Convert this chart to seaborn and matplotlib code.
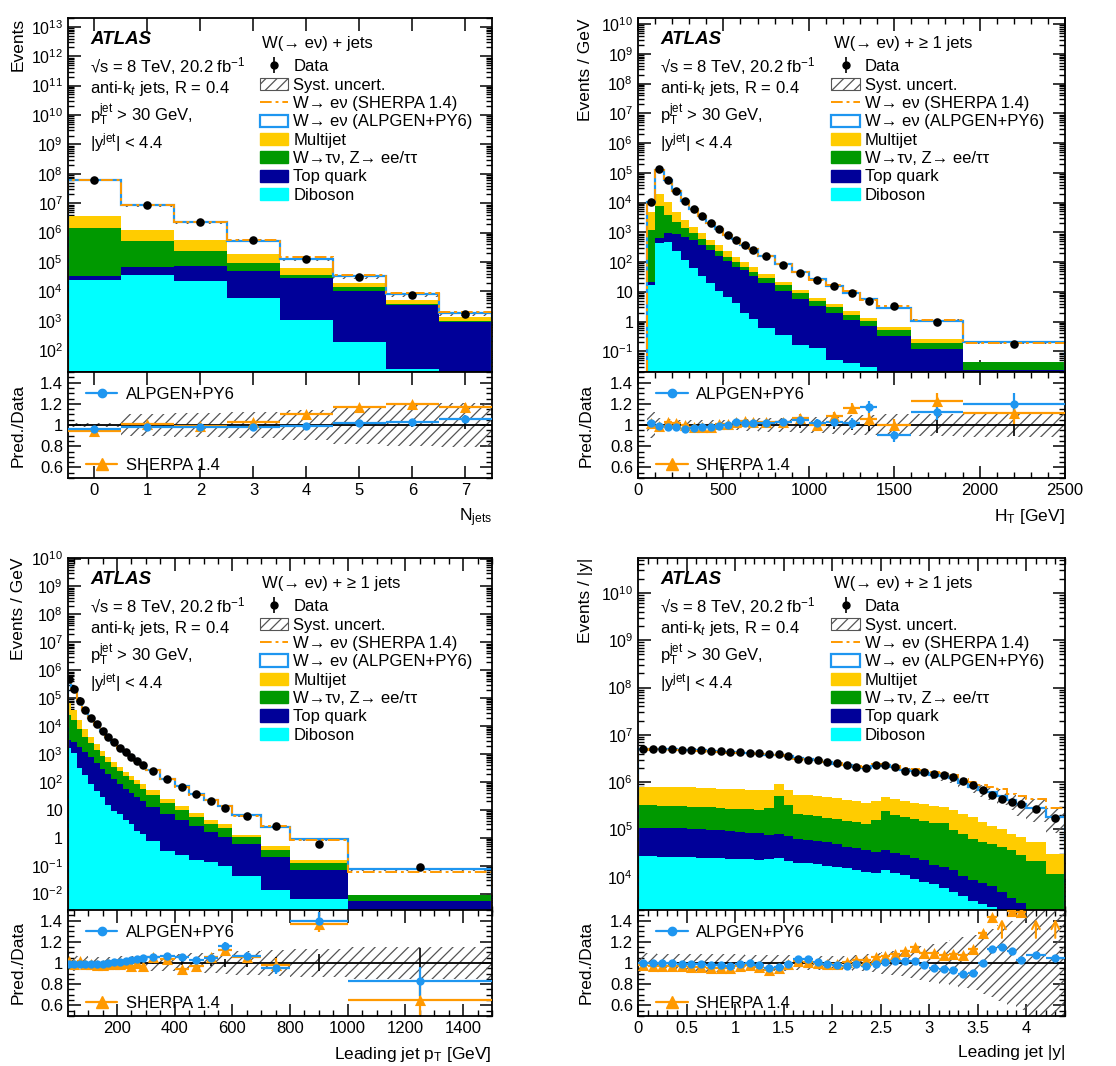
import matplotlib
matplotlib.use("Agg")
import matplotlib.pyplot as plt
import matplotlib.ticker as mtick
from matplotlib.lines import Line2D
from matplotlib.patches import Patch
import numpy as np
import seaborn as sns

sns.set_theme(style="ticks")
plt.rcParams["font.family"] = ["Liberation Sans", "DejaVu Sans"]
plt.rcParams.update({
    "mathtext.fontset": "custom",
    "mathtext.rm": "Liberation Sans",
    "mathtext.it": "Liberation Sans:italic",
    "mathtext.bf": "Liberation Sans:bold",
    "axes.linewidth": 1.3,
    "axes.edgecolor": "black",
    "text.color": "black",
    "axes.labelcolor": "black",
    "xtick.color": "black",
    "ytick.color": "black",
    "hatch.linewidth": 0.9,
    "hatch.color": "#555555",
})

C_MULTIJET = "#ffcc00"
C_WTAU = "#009900"
C_TOP = "#000099"
C_DIBOSON = "#00ffff"
C_ALPGEN = "#1e96f0"
C_SHERPA = "#ff9900"
C_HATCH = "#555555"

# ---------------- N jets ----------------
nj_edges = [-0.5, 0.5, 1.5, 2.5, 3.5, 4.5, 5.5, 6.5, 7.5]
nj_data = [6.3e7, 8.7e6, 2.3e6, 5.4e5, 1.3e5, 3.2e4, 7.6e3, 1.7e3]
nj_multijet_top = [3.7e6, 1.2e6, 5.8e5, 1.9e5, 6.3e4, 1.95e4, 5.1e3, 1.3e3]
nj_wtau_top = [1.4e6, 5.0e5, 2.3e5, 9.3e4, 3.7e4, 1.4e4, 3.6e3, 1.0e3]
nj_top_top = [3.3e4, 6.8e4, 7.1e4, 5.1e4, 2.8e4, 1.07e4, 3.4e3, 930]
nj_diboson_top = [2.5e4, 3.7e4, 2.2e4, 5.8e3, 1.1e3, 190, 22, 10]
nj_alpgen = [0.962, 0.978, 0.98, 0.978, 0.994, 1.022, 1.03, 1.058]
nj_sherpa = [0.946, 1.01, 0.99, 1.03, 1.10, 1.17, 1.195, 1.17]
nj_syst = [0.015, 0.10, 0.11, 0.12, 0.14, 0.18, 0.20, 0.21]
nj_stat = [0.001, 0.001, 0.002, 0.003, 0.006, 0.01, 0.02, 0.04]

# ---------------- H_T ----------------
ht_edges = [50, 100, 150, 200, 250, 300, 350, 400, 450, 500, 550, 600, 650, 700,
            800, 900, 1000, 1100, 1200, 1300, 1400, 1600, 1900, 2500]
ht_data = [1.05e4, 1.3e5, 5.9e4, 2.45e4, 1.17e4, 6.3e3, 3.5e3, 2.1e3, 1.3e3, 830, 560, 370, 260,
           158, 81, 44, 25.5, 15.3, 9.1, 5.0, 3.2, 0.95, 0.17]
ht_multijet_top = [4900, 2.0e4, 1.05e4, 4900, 2600, 1500, 910, 550, 375, 240, 151, 102, 69,
                   40, 22, 11.5, 6.3, 3.9, 2.3, 1.35, 0.63, 0.26, 0.043]
ht_wtau_top = [1170, 7600, 3800, 2200, 1350, 910, 575, 370, 240, 151, 102, 69, 48,
               30, 17, 8.9, 4.9, 3.0, 1.7, 1.05, 0.52, 0.19, 0.043]
ht_top_top = [22, 620, 910, 850, 710, 550, 375, 250, 158, 108, 69, 54, 34,
              20, 11, 5.8, 3.2, 1.9, 1.15, 0.71, 0.33, 0.12, 0.024]
ht_diboson_top = [17, 430, 460, 240, 117, 62, 34, 19, 11, 6.9, 4.1, 1.9, 1.2,
                  0.6, 0.36, 0.165, 0.13, 0.052, 0.04, 0.03, 1e-4, 1e-4, 1e-4]
ht_alpgen = [1.022, 0.99, 0.978, 0.978, 0.962, 0.968, 0.978, 0.978, 0.99, 0.997, 1.026, 1.022, 1.022,
             1.022, 1.03, 1.048, 1.022, 1.032, 1.016, 1.17, 0.904, 1.125, 1.20]
ht_sherpa = [1.016, 0.99, 1.026, 1.016, 1.0, 0.984, 0.978, 0.984, 1.01, 1.01, 1.026, 1.042, 1.032,
             1.032, 1.026, 1.07, 1.0, 1.086, 1.16, 1.054, 1.0, 1.224, 1.112]
ht_syst = [0.12, 0.07, 0.06, 0.05, 0.05, 0.05, 0.05, 0.05, 0.05, 0.05, 0.05, 0.055, 0.06,
           0.065, 0.07, 0.075, 0.08, 0.085, 0.09, 0.09, 0.1, 0.1, 0.11]
ht_stat = [0.01, 0.003, 0.004, 0.005, 0.006, 0.007, 0.008, 0.009, 0.01, 0.012, 0.014, 0.016, 0.018,
           0.02, 0.025, 0.03, 0.035, 0.04, 0.05, 0.06, 0.06, 0.08, 0.1]

# ---------------- leading jet pT ----------------
pt_edges = [30, 40, 60, 80, 100, 120, 140, 160, 180, 200, 220, 240, 260, 280, 300,
            350, 400, 450, 500, 550, 600, 700, 800, 1000, 1500]
pt_data = [4.7e5, 2.1e5, 8.1e4, 3.7e4, 2.0e4, 1.15e4, 6.6e3, 4.0e3, 2.6e3, 1.7e3, 1.17e3, 790, 570, 400,
           250, 123, 67, 36, 21, 12, 5.9, 2.6, 0.62, 0.089]
pt_multijet_top = [6.5e4, 3.7e4, 1.65e4, 7.6e3, 4.2e3, 2.25e3, 1.3e3, 790, 525, 345, 230, 162, 116, 81,
                   50, 24, 13.5, 7.4, 4.5, 3.2, 1.23, 0.49, 0.165, 0.0091]
pt_wtau_top = [2.5e4, 1.65e4, 7.8e3, 4.2e3, 2.4e3, 1.4e3, 830, 525, 345, 245, 162, 116, 81, 58,
               35, 17, 10.2, 5.6, 3.0, 2.3, 1.1, 0.37, 0.126, 0.0087]
pt_top_top = [3.2e3, 2.75e3, 1.8e3, 1.2e3, 760, 480, 300, 200, 123, 87, 58, 41, 29, 20,
              12.8, 7.0, 4.3, 2.6, 1.6, 1.07, 0.62, 0.21, 0.072, 0.0054]
pt_diboson_top = [1.6e3, 1.05e3, 320, 175, 83, 48, 28, 15.5, 9.1, 6.9, 4.5, 3.0, 1.74, 1.32,
                  0.74, 0.34, 0.25, 0.165, 0.14, 0.096, 0.042, 0.014, 0.0066, 1e-5]
pt_alpgen = [0.99, 0.99, 0.99, 0.987, 0.987, 0.987, 0.99, 1.0, 1.006, 1.01, 1.02, 1.03, 1.04, 1.05,
             1.058, 1.065, 1.058, 1.026, 1.049, 1.162, 1.065, 0.951, 1.40, 0.825]
pt_sherpa = [1.02, 0.99, 1.02, 0.99, 0.99, 0.98, 0.98, 0.99, 0.99, 0.99, 1.0, 0.97, 1.0, 0.97,
             1.06, 1.04, 0.945, 0.968, 1.058, 1.12, 1.058, 0.985, 1.37, 0.653]
pt_syst = [0.09, 0.08, 0.07, 0.065, 0.06, 0.06, 0.06, 0.06, 0.06, 0.065, 0.065, 0.07, 0.07, 0.07,
           0.075, 0.08, 0.085, 0.09, 0.095, 0.1, 0.11, 0.12, 0.13, 0.15]
pt_stat = [0.005, 0.003, 0.003, 0.003, 0.003, 0.004, 0.004, 0.005, 0.006, 0.007, 0.008, 0.009, 0.01, 0.012,
           0.01, 0.014, 0.02, 0.025, 0.03, 0.04, 0.04, 0.06, 0.08, 0.14]

# ---------------- leading jet |y| ----------------
y_edges = [0.0, 0.1, 0.2, 0.3, 0.4, 0.5, 0.6, 0.7, 0.8, 0.9, 1.0, 1.1, 1.2, 1.3, 1.4, 1.5, 1.6, 1.7,
           1.8, 1.9, 2.0, 2.1, 2.2, 2.3, 2.4, 2.5, 2.6, 2.7, 2.8, 2.9, 3.0, 3.1, 3.2, 3.3, 3.4, 3.5,
           3.6, 3.7, 3.8, 3.9, 4.0, 4.2, 4.4]
y_data = [4.98e6, 5.06e6, 5.06e6, 4.98e6, 4.9e6, 4.82e6, 4.74e6, 4.59e6, 4.52e6, 4.37e6,
          4.24e6, 4.17e6, 4.10e6, 4.03e6, 3.97e6, 3.60e6, 3.06e6, 2.96e6, 2.87e6, 2.64e6,
          2.52e6, 2.32e6, 2.14e6, 2.0e6, 2.25e6, 2.25e6, 2.07e6, 1.76e6, 1.65e6, 1.62e6,
          1.47e6, 1.43e6, 1.31e6, 1.08e6, 8.9e5, 6.9e5, 5.4e5, 4.5e5, 3.8e5, 3.4e5, 2.7e5, 1.78e5]
y_multijet_top = [8.07e5, 8.07e5, 7.94e5, 7.94e5, 7.94e5, 7.8e5, 7.7e5, 7.6e5, 7.3e5, 7.2e5,
                  7.1e5, 6.97e5, 6.85e5, 6.7e5, 9.2e5, 6.85e5, 5.4e5, 5.3e5, 5.1e5, 4.8e5,
                  4.57e5, 4.22e5, 4.01e5, 3.70e5, 4.01e5, 4.80e5, 4.43e5, 4.08e5, 3.58e5, 3.47e5,
                  3.15e5, 3.04e5, 2.59e5, 2.13e5, 1.81e5, 1.47e5, 1.19e5, 1.04e5, 8.0e4, 6.8e4, 5.5e4, 3.1e4]
y_wtau_top = [3.3e5, 3.25e5, 3.2e5, 3.2e5, 3.15e5, 3.05e5, 3.0e5, 2.95e5, 2.86e5, 2.76e5,
              2.72e5, 2.67e5, 2.59e5, 2.9e5, 5.1e5, 3.3e5, 2.13e5, 2.03e5, 1.93e5, 1.78e5,
              1.66e5, 1.52e5, 1.42e5, 1.30e5, 1.58e5, 2.46e5, 2.03e5, 1.87e5, 1.66e5, 1.50e5,
              1.38e5, 1.34e5, 9.8e4, 8.0e4, 6.3e4, 5.5e4, 4.9e4, 4.3e4, 3.7e4, 2.9e4, 2.2e4, 1.17e4]
y_top_top = [1.09e5, 1.09e5, 1.08e5, 1.08e5, 1.06e5, 1.04e5, 1.01e5, 9.8e4, 9.5e4, 9.2e4,
             8.9e4, 8.6e4, 8.3e4, 7.8e4, 7.9e4, 7.1e4, 6.3e4, 6.1e4, 5.8e4, 5.3e4,
             4.85e4, 4.33e4, 3.99e4, 3.68e4, 3.40e4, 3.68e4, 3.23e4, 2.88e4, 2.53e4, 2.26e4,
             1.77e4, 1.63e4, 1.39e4, 1.03e4, 8.5e3, 7.2e3, 6.4e3, 4.8e3, 3.6e3, 2.8e3, 1.9e3, 1.2e3]
y_diboson_top = [2.75e4, 2.7e4, 2.66e4, 2.66e4, 2.62e4, 2.58e4, 2.53e4, 2.49e4, 2.45e4, 2.41e4,
                 2.37e4, 2.33e4, 2.29e4, 2.33e4, 2.49e4, 2.19e4, 1.99e4, 1.92e4, 1.83e4, 1.72e4,
                 1.63e4, 1.51e4, 1.39e4, 1.28e4, 1.22e4, 1.39e4, 1.22e4, 1.09e4, 8.8e3, 7.9e3,
                 7.0e3, 5.7e3, 4.8e3, 3.9e3, 3.1e3, 2.7e3, 2.25e3, 1.7e3, 1.3e3, 1.1e3, 900, 700]
y_alpgen = [1.003, 1.0, 1.003, 1.0, 0.994, 0.987, 0.987, 0.984, 0.977, 0.974,
            0.987, 1.0, 0.977, 0.948, 0.961, 0.987, 1.035, 1.035, 1.006, 0.994,
            0.977, 0.974, 0.994, 0.974, 0.994, 1.006, 1.016, 1.016, 1.019, 0.977,
            0.952, 0.945, 0.935, 0.897, 0.903, 1.0, 1.129, 1.148, 1.11, 1.026, 1.074, 1.042]
y_sherpa = [0.977, 0.974, 0.968, 0.974, 0.968, 0.961, 0.961, 0.955, 0.952, 0.955,
            0.968, 0.977, 0.961, 0.929, 0.952, 0.987, 1.016, 1.01, 1.0, 0.994,
            0.987, 1.01, 1.026, 1.032, 1.058, 1.065, 1.084, 1.113, 1.148, 1.097,
            1.09, 1.074, 1.084, 1.074, 1.129, 1.28, 1.43, 1.6, 1.49, 1.48, 1.6, 1.6]
y_syst = [0.09, 0.09, 0.088, 0.088, 0.086, 0.085, 0.084, 0.083, 0.082, 0.08,
          0.08, 0.078, 0.076, 0.075, 0.074, 0.072, 0.07, 0.068, 0.066, 0.065,
          0.065, 0.068, 0.072, 0.08, 0.09, 0.1, 0.11, 0.12, 0.14, 0.16,
          0.18, 0.2, 0.22, 0.24, 0.26, 0.29, 0.32, 0.36, 0.4, 0.44, 0.5, 0.55]

STACK_COLORS = [C_DIBOSON, C_TOP, C_WTAU, C_MULTIJET]
SHERPA_LS = (0, (6, 2, 1.5, 2))
HATCH = "///"

fig = plt.figure(figsize=(11.16, 10.66), dpi=100)

COL_X = [0.0609, 0.5717]
COL_W = [0.3799, 0.3826]
MAIN_Y = [0.6510, 0.1445]
RATIO_Y = [0.5516, 0.0470]
MAIN_H = 0.3321
RATIO_H = 0.0994
YLABEL_X = [-0.099, -0.105]


def log_label(v, pos):
    e = int(np.round(np.log10(v)))
    if e == 0:
        return "1"
    if e == 1:
        return "10"
    return r"$10^{%d}$" % e


def draw_panel(col, row, edges, data, tops, r_alp, r_sh, syst, stat,
               ylim, xlim, xmajor, xminor, ylabel, xlabel, title):
    ax = fig.add_axes([COL_X[col], MAIN_Y[row], COL_W[col], MAIN_H])
    rax = fig.add_axes([COL_X[col], RATIO_Y[row], COL_W[col], RATIO_H], sharex=ax)

    edges = np.asarray(edges, float)
    centers = 0.5 * (edges[1:] + edges[:-1])
    half = 0.5 * np.diff(edges)
    data = np.asarray(data, float)
    syst = np.asarray(syst, float)
    stat = np.zeros(len(data)) if stat is None else np.asarray(stat, float)
    floor = ylim[0] * 1e-3

    # stacked backgrounds (cumulative tops)
    lower = np.full(len(data), floor)
    for top, c in zip(tops, STACK_COLORS):
        top = np.maximum(np.asarray(top, float), lower)
        ax.stairs(top, edges, baseline=lower, fill=True, facecolor=c, edgecolor=c, lw=0)
        lower = top

    pred_alp = data * np.asarray(r_alp)
    pred_sh = data * np.asarray(r_sh)
    ax.stairs(pred_alp * (1 + syst), edges, baseline=pred_alp * (1 - syst), fill=True,
              facecolor="none", edgecolor=C_HATCH, hatch=HATCH, lw=0)
    ax.stairs(pred_alp, edges, baseline=floor, color=C_ALPGEN, lw=1.6)
    ax.stairs(pred_sh, edges, baseline=floor, color=C_SHERPA, lw=1.4, ls=SHERPA_LS)

    ax.errorbar(centers, data, yerr=data * stat, fmt="none", ecolor="black", lw=1.2, zorder=5)
    sns.scatterplot(x=centers, y=data, ax=ax, color="black", s=38, linewidth=0, zorder=6, legend=False)

    ax.set_yscale("log")
    ax.set_ylim(ylim)
    ax.set_xlim(xlim)
    # only label decades that lie inside the visible range
    decades = 10.0 ** np.arange(np.ceil(np.log10(ylim[0])), np.floor(np.log10(ylim[1])) + 1)
    ax.yaxis.set_major_locator(mtick.FixedLocator(decades))
    ax.yaxis.set_minor_locator(mtick.LogLocator(10, subs=np.arange(2, 10), numticks=40))
    ax.yaxis.set_major_formatter(mtick.FuncFormatter(log_label))
    ax.yaxis.set_minor_formatter(mtick.NullFormatter())
    ax.tick_params(labelbottom=False)

    # annotations
    ax.text(0.052, 0.938, "ATLAS", transform=ax.transAxes, fontsize=13.5,
            fontweight="bold", fontstyle="italic", va="center")
    info = ["√s = 8 TeV, 20.2 fb$^{-1}$", "anti-k$_{t}$ jets, R = 0.4",
            "p$_{\\mathrm{T}}^{\\mathrm{jet}}$ > 30 GeV,", "|y$^{\\mathrm{jet}}$| < 4.4"]
    for yy, s in zip([0.864, 0.802, 0.726, 0.647], info):
        ax.text(0.052, yy, s, transform=ax.transAxes, fontsize=12, va="center")
    ax.text(0.458, 0.929, title, transform=ax.transAxes, fontsize=12, va="center")

    h_data = (Line2D([], [], marker="|", color="black", ms=11, mew=1.2, ls="none"),
              Line2D([], [], marker="o", color="black", ms=5, ls="none"))
    handles = [h_data,
               Patch(facecolor="white", edgecolor=C_HATCH, hatch=HATCH, lw=0.8),
               Line2D([], [], color=C_SHERPA, lw=1.4, ls=SHERPA_LS),
               Patch(facecolor="white", edgecolor=C_ALPGEN, lw=1.6),
               Patch(color=C_MULTIJET), Patch(color=C_WTAU), Patch(color=C_TOP), Patch(color=C_DIBOSON)]
    labels = ["Data", "Syst. uncert.", "W→ eν (SHERPA 1.4)", "W→ eν (ALPGEN+PY6)",
              "Multijet", "W→τν, Z→ ee/ττ", "Top quark", "Diboson"]
    ax.legend(handles, labels, loc="upper left", bbox_to_anchor=(0.453, 0.883), frameon=False,
              fontsize=12, handlelength=1.7, handleheight=0.75, handletextpad=0.3,
              labelspacing=0.2, borderaxespad=0, borderpad=0)

    # ratio panel
    rax.stairs(1 + syst, edges, baseline=1 - syst, fill=True, facecolor="none",
               edgecolor=C_HATCH, hatch=HATCH, lw=0)
    rax.axhline(1, color="black", lw=1.3, zorder=3)
    rax.errorbar(centers, np.ones(len(centers)), yerr=stat, fmt="none", ecolor="black", lw=1.2, zorder=3)
    for r, c, mk, ms in ((r_sh, C_SHERPA, "^", 8), (r_alp, C_ALPGEN, "o", 6)):
        r = np.asarray(r, float)
        ok = r <= 1.5
        rax.errorbar(centers[ok], r[ok], xerr=half[ok], yerr=stat[ok], fmt="none", ecolor=c, lw=1.6, zorder=4)
        sns.scatterplot(x=centers[ok], y=r[ok], ax=rax, color=c, marker=mk, s=ms ** 2,
                        linewidth=0, zorder=5, legend=False)
        for xc in centers[~ok]:
            rax.annotate("", xy=(xc, 1.44), xytext=(xc, 1.21),
                         arrowprops=dict(arrowstyle="->", color=c, lw=1.5, mutation_scale=14))
    rax.set_ylim(0.5, 1.5)
    rax.yaxis.set_major_locator(mtick.FixedLocator([0.6, 0.8, 1.0, 1.2, 1.4]))
    rax.yaxis.set_major_formatter(mtick.FuncFormatter(lambda v, p: f"{v:g}"))
    rax.yaxis.set_minor_locator(mtick.MultipleLocator(0.05))
    rax.xaxis.set_major_locator(mtick.MultipleLocator(xmajor))
    rax.xaxis.set_major_formatter(mtick.FuncFormatter(lambda v, p: f"{v:g}"))
    if xminor:
        rax.xaxis.set_minor_locator(mtick.MultipleLocator(xminor))
    else:
        rax.xaxis.set_minor_locator(mtick.NullLocator())

    l1 = rax.legend([Line2D([], [], color=C_ALPGEN, marker="o", ms=6, lw=1.6)], ["ALPGEN+PY6"],
                    loc="upper left", bbox_to_anchor=(0.042, 0.86), frameon=False, fontsize=12,
                    handlelength=1.9, handletextpad=0.5, borderaxespad=0, borderpad=0)
    rax.add_artist(l1)
    rax.legend([Line2D([], [], color=C_SHERPA, marker="^", ms=8, lw=1.6)], ["SHERPA 1.4"],
               loc="lower left", bbox_to_anchor=(0.042, 0.05), frameon=False, fontsize=12,
               handlelength=1.9, handletextpad=0.5, borderaxespad=0, borderpad=0)

    for a in (ax, rax):
        a.tick_params(which="both", direction="in", top=True, right=True, labelsize=12)
        a.tick_params(which="major", length=9, width=1.1)
        a.tick_params(which="minor", length=4.5, width=1.0)
    ax.tick_params(axis="y", labelsize=11.5)

    ax.set_ylabel(ylabel, loc="top", fontsize=12.5)
    ax.yaxis.set_label_coords(YLABEL_X[col], 1.0)
    rax.set_ylabel("Pred./Data", fontsize=12.5)
    rax.yaxis.set_label_coords(YLABEL_X[col], 0.5)
    rax.set_xlabel(xlabel, loc="right", fontsize=12.5)
    rax.xaxis.set_label_coords(1.0, -0.27)


draw_panel(0, 0, nj_edges, nj_data, [nj_diboson_top, nj_top_top, nj_wtau_top, nj_multijet_top],
           nj_alpgen, nj_sherpa, nj_syst, nj_stat, (18, 2e13), (-0.5, 7.5), 1, None,
           "Events", "N$_{\\mathrm{jets}}$", "W(→ eν) + jets")
draw_panel(1, 0, ht_edges, ht_data, [ht_diboson_top, ht_top_top, ht_wtau_top, ht_multijet_top],
           ht_alpgen, ht_sherpa, ht_syst, ht_stat, (0.02, 1.6e10), (0, 2500), 500, 100,
           "Events / GeV", "H$_{\\mathrm{T}}$ [GeV]", "W(→ eν) + ≥ 1 jets")
draw_panel(0, 1, pt_edges, pt_data, [pt_diboson_top, pt_top_top, pt_wtau_top, pt_multijet_top],
           pt_alpgen, pt_sherpa, pt_syst, pt_stat, (2.2e-3, 1.05e10), (30, 1500), 200, 50,
           "Events / GeV", "Leading jet p$_{\\mathrm{T}}$ [GeV]", "W(→ eν) + ≥ 1 jets")
draw_panel(1, 1, y_edges, y_data, [y_diboson_top, y_top_top, y_wtau_top, y_multijet_top],
           y_alpgen, y_sherpa, y_syst, None, (1.8e3, 5.5e10), (0, 4.4), 0.5, 0.1,
           "Events / |y|", "Leading jet |y|", "W(→ eν) + ≥ 1 jets")

fig.savefig("out.png", dpi=100)
